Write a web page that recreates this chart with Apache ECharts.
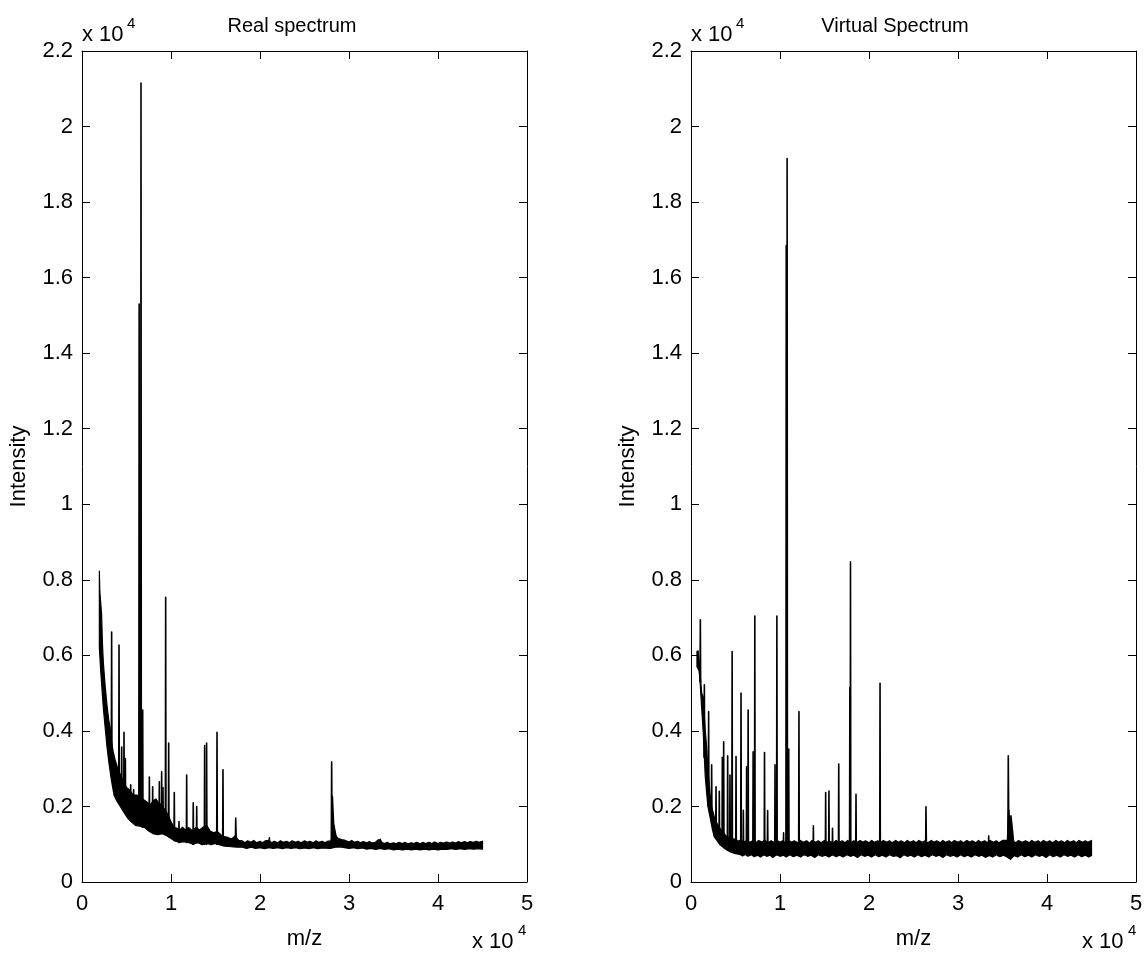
<!DOCTYPE html>
<html><head><meta charset="utf-8">
<script src="https://cdn.jsdelivr.net/npm/echarts@6/dist/echarts.min.js"></script>
<style>html,body{margin:0;padding:0;background:#fff}#c{width:1146px;height:958px}</style>
</head><body><div id="c"></div><script>
const FONT = '"Liberation Sans", Arial, Helvetica, sans-serif';
const xTickLabels = ['0','1','2','3','4','5'];
const yTickLabels = ['0','0.2','0.4','0.6','0.8','1','1.2','1.4','1.6','1.8','2','2.2'];
const xMax = 50000, xStep = 10000, yMax = 22000, yStep = 2000;
const titles = ['Real spectrum', 'Virtual Spectrum'];

// Real spectrum: noisy baseline band (upper / lower edges) and peaks [m/z, top, base, halfLeft, halfRight]
const realBandUpper = [[1950,8230],[2000,7700],[2100,7400],[2200,7100],[2300,6300],[2400,5800],[2500,5500],[2600,5200],[2800,4700],[3000,4300],[3150,4100],[3300,3750],[3500,3450],[3700,3250],[3900,3100],[4100,2950],[4300,2850],[4500,2750],[4800,2600],[5000,2500],[5300,2450],[5600,2350],[5900,2300],[6200,2300],[6500,2250],[6800,2200],[7100,2150],[7400,2100],[7700,2050],[8000,2150],[8300,2200],[8600,2100],[8900,2050],[9200,1950],[9500,1850],[9800,1700],[10100,1550],[10400,1450],[10700,1420],[11000,1380],[11300,1450],[11600,1380],[12000,1440],[12400,1360],[12800,1440],[13200,1380],[13600,1450],[14000,1500],[14400,1350],[14800,1300],[15200,1340],[15600,1250],[16000,1200],[16400,1180],[16800,1140],[17200,1220],[17600,1100],[18000,1090],[18300,1040],[18600,1090],[19000,1050],[19300,1100],[19600,1040],[20000,1080],[20300,1040],[20600,1090],[21000,1100],[21300,1040],[21600,1080],[22000,1040],[22300,1090],[22600,1050],[23000,1080],[23300,1040],[23600,1090],[24000,1050],[24300,1080],[24600,1040],[25000,1090],[25300,1050],[25600,1080],[26000,1040],[26300,1090],[26600,1050],[27000,1080],[27300,1040],[27600,1080],[27900,1080],[28400,1250],[28800,1150],[29200,1120],[29600,1100],[30000,1060],[30300,1100],[30600,1050],[31000,1080],[31300,1040],[31600,1070],[32000,1040],[32300,1070],[32600,1030],[33000,1060],[33300,1120],[33600,1060],[34000,1020],[34300,1050],[34600,1010],[35000,1040],[35300,1010],[35600,1050],[36000,1020],[36300,1050],[36600,1010],[37000,1040],[37300,1020],[37600,1050],[38000,1010],[38300,1050],[38600,1020],[39000,1050],[39300,1020],[39600,1060],[40000,1020],[40300,1050],[40600,1030],[41000,1060],[41300,1030],[41600,1060],[42000,1030],[42300,1070],[42600,1040],[43000,1070],[43300,1040],[43600,1070],[44000,1050],[44300,1080],[44600,1050],[45000,1080]];
const realBandLower = [[1950,6200],[2100,5600],[2250,5100],[2400,4600],[2600,4100],[2800,3600],[3000,3200],[3300,2700],[3600,2300],[3900,2150],[4300,2000],[4700,1850],[5100,1700],[5500,1600],[6000,1500],[6500,1480],[7000,1450],[7500,1350],[8000,1280],[8500,1250],[9000,1280],[9500,1230],[10000,1150],[10500,1080],[11000,1050],[11500,1070],[12000,1040],[12500,1000],[13000,1040],[13500,990],[14000,1030],[14500,990],[15000,1020],[15500,980],[16000,950],[16500,940],[17000,930],[17500,920],[18000,920],[18500,890],[19000,920],[19500,890],[20000,910],[20500,880],[21000,910],[21500,890],[22000,910],[22500,880],[23000,910],[23500,890],[24000,910],[24500,880],[25000,900],[25500,880],[26000,910],[26500,880],[27000,900],[27900,890],[28500,920],[29000,930],[29500,910],[30000,890],[30500,910],[31000,880],[31500,900],[32000,870],[32500,890],[33000,860],[33500,890],[34000,860],[34500,880],[35000,850],[35500,870],[36000,850],[36500,870],[37000,850],[37500,870],[38000,850],[38500,870],[39000,850],[39500,870],[40000,850],[40500,870],[41000,860],[41500,880],[42000,860],[42500,880],[43000,860],[43500,880],[44000,870],[44500,880],[45000,870]];
const realPeaks = [[3330,6620,3300],[4160,6270,2400],[4460,3570,2100],[4720,3960,2000],[4870,3270,1950],[5470,2570,1700],[5800,2450,1600],[6420,15300,1500],[6630,21150,1500],[6820,4550,1450],[7570,2780,1400],[7940,2520,1350],[8690,2650,1300],[8950,2920,1300],[9100,2500,1300],[9400,7540,1250],[9740,3680,1200],[10370,2370,1100],[10900,1600,1050],[11760,2830,1050],[12500,2100,1000],[12890,2000,1050],[13780,3610,1000],[14000,3680,1000],[15170,3960,1000],[15840,2970,980],[17270,1690,950,40,80],[21050,1170,950],[28050,3180,950,40,60],[28130,2260,950,70,250],[28300,1500,950,150,450],[33500,1130,950,250,350]];

// Virtual spectrum
const virtualBandUpper = [[670,6100],[800,6120],[900,5900],[1000,5500],[1100,5300],[1200,5000],[1300,4950],[1380,4900],[1500,4400],[1600,4000],[1760,3580],[1900,3000],[2000,2700],[2130,2350],[2300,2000],[2510,1820],[2700,1650],[2900,1560],[3100,1480],[3260,1420],[3500,1330],[3800,1260],[4010,1200],[4300,1180],[4600,1150],[5000,1130],[5300,1080],[5600,1120],[6000,1060],[6300,1110],[6600,1050],[7000,1100],[7300,1040],[7600,1100],[8000,1060],[8300,1110],[8600,1040],[9000,1090],[9300,1050],[9600,1110],[10000,1050],[10300,1090],[10600,1040],[11000,1100],[11300,1050],[11600,1090],[12000,1040],[12300,1100],[12600,1050],[13000,1090],[13300,1030],[13600,1100],[14000,1050],[14300,1090],[14600,1040],[15000,1100],[15300,1050],[15600,1080],[16000,1040],[16300,1100],[16600,1050],[17000,1090],[17300,1040],[17600,1100],[18000,1050],[18300,1090],[18600,1040],[19000,1100],[19300,1050],[19600,1090],[20000,1040],[20300,1100],[20600,1050],[21000,1090],[21300,1040],[21600,1100],[22000,1050],[22300,1090],[22600,1040],[23000,1100],[23300,1050],[23600,1090],[24000,1040],[24300,1100],[24600,1050],[25000,1090],[25300,1040],[25600,1100],[26000,1050],[26300,1090],[26600,1040],[27000,1100],[27300,1050],[27600,1090],[28000,1040],[28300,1100],[28600,1050],[29000,1090],[29300,1040],[29600,1100],[30000,1050],[30300,1090],[30600,1040],[31000,1100],[31300,1050],[31600,1090],[32000,1040],[32300,1100],[32600,1050],[33000,1090],[33300,1040],[33600,1100],[34000,1050],[34300,1090],[34600,1040],[35000,1100],[35400,1100],[36200,1080],[36500,1040],[36800,1100],[37200,1050],[37600,1090],[38000,1040],[38300,1100],[38600,1050],[39000,1090],[39300,1040],[39600,1100],[40000,1050],[40300,1090],[40600,1040],[41000,1100],[41300,1050],[41600,1090],[42000,1040],[42300,1100],[42600,1050],[43000,1090],[43300,1040],[43600,1100],[44000,1050],[44300,1090],[44600,1050],[45000,1100]];
const virtualBandLower = [[670,5700],[900,5600],[1010,5350],[1200,4600],[1380,3930],[1500,3300],[1600,2800],[1760,2350],[1900,2000],[2130,1730],[2400,1400],[2600,1200],[2890,1110],[3200,1000],[3600,920],[4010,850],[4500,790],[5000,750],[5500,730],[5800,690],[6100,730],[6400,680],[6800,720],[7100,670],[7500,710],[7800,660],[8200,720],[8500,680],[8900,710],[9200,650],[9600,720],[10000,680],[10400,710],[10700,660],[11100,720],[11500,670],[11900,710],[12300,660],[12700,720],[13100,680],[13500,710],[13900,650],[14300,720],[14700,680],[15100,710],[15500,660],[15900,720],[16300,670],[16700,710],[17100,660],[17500,720],[17900,680],[18300,710],[18700,650],[19100,720],[19500,680],[19900,710],[20300,660],[20700,720],[21100,670],[21500,710],[21900,660],[22300,720],[22700,680],[23100,700],[23500,640],[23900,720],[24300,680],[24700,710],[25100,660],[25500,720],[25900,670],[26300,710],[26700,660],[27100,720],[27500,680],[27900,710],[28300,650],[28700,720],[29100,680],[29500,710],[29900,660],[30300,720],[30700,670],[31100,710],[31500,660],[31900,720],[32300,680],[32700,710],[33100,650],[33500,700],[33900,660],[34300,720],[34700,670],[35100,710],[35500,660],[35900,600],[36300,700],[36700,660],[37100,720],[37500,670],[37900,710],[38300,660],[38700,720],[39100,680],[39500,710],[39900,650],[40300,720],[40700,670],[41100,710],[41500,660],[41900,720],[42300,680],[42700,710],[43100,660],[43500,720],[43900,670],[44300,710],[44700,660],[45000,700]];
const virtualPeaks = [[1050,6940,5300],[1500,5220,3300],[1980,4510,2000],[2320,3100,1700],[2810,2520,1300],[3180,2400,1100],[3520,3300,1000],[3670,3710,1000],[4120,3340,900],[4380,2830,900],[4620,6100,850],[5060,3320,800],[5620,5000,750],[5880,1900,750],[6250,3050,750],[6420,4550,750],[6980,3450,720],[7170,7040,720],[8260,3430,720],[8610,1890,720],[9440,3100,720],[9650,7040,720],[10400,1300,720],[10700,16850,720],[10800,19150,720],[10980,3520,720],[12130,4510,720],[13750,1490,720],[15130,2370,720],[15500,2410,720],[15900,1420,720],[16600,3120,720],[17850,5140,720],[17920,8480,720],[18540,2320,720],[21240,5260,720],[26400,1990,720,40,60],[33450,1220,700],[35650,3340,700,50,70],[35700,1900,700,200,350],[35950,1750,700,150,450]];

const tickStyle = {show:true, inside:true, length:8, lineStyle:{color:'#000', width:1}};
const lineStyle = {show:true, onZero:false, lineStyle:{color:'#000', width:1}};
const txt = {color:'#000', fontSize:22, fontFamily:FONT};

const grids = [], xAxes = [], yAxes = [], series = [];
[0,1].forEach(gi => {
  grids.push({left: gi ? 691 : 82, top: 51, width: 445, height: 831, containLabel:false});
  const xb = {type:'value', gridIndex:gi, min:0, max:xMax, interval:xStep, splitLine:{show:false}, axisLine:lineStyle, axisTick:tickStyle};
  xAxes.push(Object.assign({}, xb, {position:'bottom', axisLabel:Object.assign({formatter:v=>xTickLabels[Math.round(v/xStep)], margin:11}, txt),
    name:'m/z', nameLocation:'middle', nameGap:46, nameTextStyle:txt}));
  xAxes.push(Object.assign({}, xb, {position:'top', axisLabel:{show:false}}));
  const yb = {type:'value', gridIndex:gi, min:0, max:yMax, interval:yStep, splitLine:{show:false}, axisLine:lineStyle, axisTick:tickStyle};
  yAxes.push(Object.assign({}, yb, {position:'left', axisLabel:Object.assign({formatter:v=>yTickLabels[Math.round(v/yStep)], margin:9}, txt),
    name:'Intensity', nameLocation:'middle', nameGap:52, nameRotate:90, nameTextStyle:txt}));
  yAxes.push(Object.assign({}, yb, {position:'right', axisLabel:{show:false}}));
});

function bandSeries(upper, lower, gi) {
  return {type:'custom', xAxisIndex:gi*2, yAxisIndex:gi*2, silent:true, clip:true, animation:false,
    data:[upper[0]],
    renderItem(params, api) {
      const pts = upper.map(p => api.coord(p)).concat(lower.slice().reverse().map(p => api.coord(p)));
      return {type:'polygon', shape:{points:pts}, style:{fill:'#000', stroke:'#000', lineWidth:1.2, lineJoin:'round'}};
    }};
}
function peakSeries(peaks, gi) {
  return {type:'custom', xAxisIndex:gi*2, yAxisIndex:gi*2, silent:true, clip:true, animation:false,
    data: peaks.map(p => [p[0], p[1]]),
    renderItem(params, api) {
      const p = peaks[params.dataIndex];
      const hl = p[3] !== undefined ? p[3] : 35, hr = p[4] !== undefined ? p[4] : hl;
      const pts = [api.coord([p[0]-hl, p[2]]), api.coord([p[0], p[1]]), api.coord([p[0]+hr, p[2]])];
      return {type:'polygon', shape:{points:pts}, style:{fill:'#000', stroke:'#000', lineWidth:1.6, lineJoin:'round'}};
    }};
}
series.push(bandSeries(realBandUpper, realBandLower, 0), peakSeries(realPeaks, 0));
series.push(bandSeries(virtualBandUpper, virtualBandLower, 1), peakSeries(virtualPeaks, 1));

function t(text, x, y, size, align) {
  return {type:'text', x:x, y:y, style:{text:text, fill:'#000', font: size + 'px ' + FONT, textAlign:align || 'left', textVerticalAlign:'middle'}};
}
const graphic = [
  t(titles[0], 292, 26, 20, 'center'), t(titles[1], 895, 26, 20, 'center'),
  t('x 10', 82, 35, 22), t('4', 127, 24, 15),
  t('x 10', 691, 35, 22), t('4', 736, 24, 15),
  t('x 10', 472, 942, 22), t('4', 518, 931, 15),
  t('x 10', 1082, 942, 22), t('4', 1128, 931, 15)
];

const chart = echarts.init(document.getElementById('c'), null, {renderer:'canvas'});
chart.setOption({animation:false, backgroundColor:'#fff', grid:grids, xAxis:xAxes, yAxis:yAxes, series:series, graphic:graphic});
</script></body></html>
